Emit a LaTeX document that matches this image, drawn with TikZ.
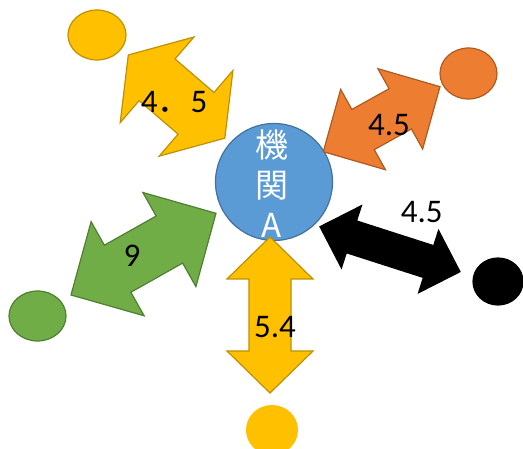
\documentclass[tikz,border=0pt]{standalone}
\usepackage{fontspec}
\setmainfont{Carlito}
\newfontfamily\cjk{Noto Sans CJK JP}
\usetikzlibrary{calc,shapes.geometric}
\definecolor{cGold}{HTML}{FFC000}
\definecolor{cGoldDk}{HTML}{BF9000}
\definecolor{cOrng}{HTML}{ED7D31}
\definecolor{cOrngDk}{HTML}{AE5A21}
\definecolor{cGrn}{HTML}{70AD47}
\definecolor{cGrnDk}{HTML}{507E32}
\definecolor{cBlu}{HTML}{5B9BD5}
\definecolor{cBluDk}{HTML}{41719C}
% #2,#3 tips, #4 half shaft, #5 half head, #6 head length
\newcommand{\BlockArrow}[6][]{%
\path[#1] let \p1=(#2),\p2=(#3),\n1={atan2(\y2-\y1,\x2-\x1)},\n2={veclen(\x2-\x1,\y2-\y1)} in
[shift={(\p1)},rotate=\n1] (0,0) -- (#6,#5) -- (#6,#4) -- ({\n2-#6},#4) -- ({\n2-#6},#5) -- (\n2,0)
-- ({\n2-#6},-#5) -- ({\n2-#6},-#4) -- (#6,-#4) -- (#6,-#5) -- cycle;}

\begin{document}
\begin{tikzpicture}[x=1pt,y=-1pt,line width=1.2pt,line join=miter,
yshape/.style={fill=cGold,draw=cGoldDk},
oshape/.style={fill=cOrng,draw=cOrngDk},
gshape/.style={fill=cGrn,draw=cGrnDk},
kshape/.style={fill=black,draw=black},
blob/.style={ellipse,inner sep=0,minimum width=57,minimum height=50},
numlab/.style={inner sep=0,font=\fontsize{33}{36}\selectfont}]
\useasboundingbox (0,0) rectangle (523,449);
\node[circle,inner sep=0,minimum size=117,fill=cBlu,draw=cBluDk] (O) at (274,182) {};
\node[blob,yshape,minimum width=58] (Ytop) at (97,35) {};
\node[blob,oshape,minimum height=51] (Or) at (468.5,73.5) {};
\node[blob,gshape] (Gr) at (37.5,316) {};
\node[blob,kshape,minimum width=50,minimum height=47] (Bk) at (498,281.5) {};
\node[blob,fill=cGold,minimum width=52] (Ybot) at (272,430) {};
\coordinate (y1) at (128.3,55); \coordinate (y2) at (225,138.3);
\coordinate (o1) at (323.3,151.7); \coordinate (o2) at (440,86.7);
\coordinate (g1) at (71,295); \coordinate (g2) at (216,213.3);
\coordinate (k1) at (320,226.7); \coordinate (k2) at (460,271.7);
\coordinate (b1) at (270,237); \coordinate (b2) at (270,393);
\BlockArrow[yshape]{y1}{y2}{27.5}{56.5}{38}
\BlockArrow[oshape]{o1}{o2}{23}{46}{45.5}
\BlockArrow[gshape]{g1}{g2}{27}{54}{53.5}
\BlockArrow[kshape]{k1}{k2}{16.7}{32.7}{33}
\BlockArrow[yshape]{b1}{b2}{21}{43}{42}
\node[numlab] (ly) at (174,102.5) {4{\cjk ．}5};
\node[numlab] (lo) at (389,125) {4.5};
\node[numlab] (lg) at (132,256) {9};
\node[numlab] (lk) at (421.7,212.5) {4.5};
\node[numlab] (lb) at (275,326.7) {5.4};
\node[inner sep=0,align=center,text=white,font=\cjk\fontsize{33}{40}\selectfont] (lO) at (272,184) {機\\関\\A};
\end{tikzpicture}
\end{document}
